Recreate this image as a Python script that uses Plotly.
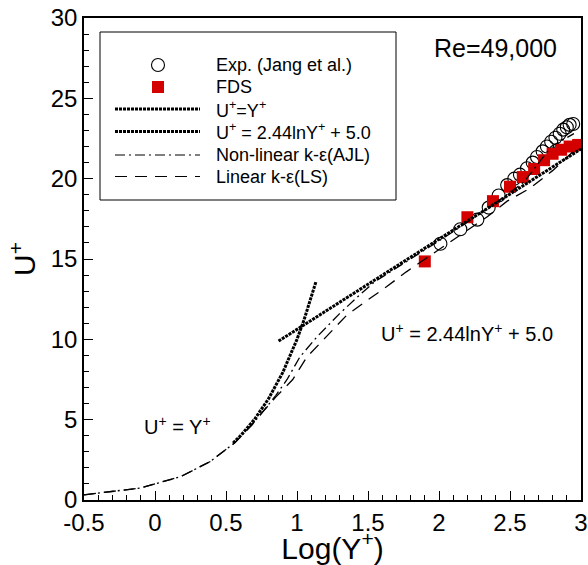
import plotly.graph_objects as go

# ---------------- data ----------------
exp_x = [2.01, 2.15, 2.27, 2.35, 2.42, 2.48, 2.53, 2.57, 2.62, 2.66, 2.69, 2.73,
         2.76, 2.79, 2.82, 2.85, 2.875, 2.90, 2.92, 2.945]
exp_u = [15.95, 16.85, 17.45, 18.2, 18.95, 19.6, 20.0, 20.25, 20.65, 21.0, 21.35, 21.7,
         22.0, 22.3, 22.55, 22.8, 23.05, 23.2, 23.35, 23.4]

fds_x = [1.90, 2.20, 2.38, 2.50, 2.59, 2.67, 2.74, 2.80, 2.86, 2.92, 2.98]
fds_u = [14.85, 17.6, 18.6, 19.5, 20.1, 20.6, 21.15, 21.55, 21.8, 22.0, 22.1]

visc_x = [0.55, 0.6, 0.7, 0.8, 0.9, 1.0, 1.05, 1.1, 1.134]
visc_u = [3.55, 3.98, 5.01, 6.31, 7.94, 10.0, 11.22, 12.59, 13.6]

log_x = [0.87, 3.0]
log_u = [9.89, 21.85]

ajl_x = [-0.5, -0.1, 0.18, 0.39, 0.56, 0.68, 0.76, 0.85, 0.93, 1.02, 1.14, 1.30,
         1.44, 1.55, 1.8, 2.1, 2.4, 2.6, 2.79, 2.95]
ajl_u = [0.32, 0.75, 1.45, 2.4, 3.55, 4.65, 5.5, 6.5, 7.5, 8.9, 10.15, 11.6,
         12.75, 13.6, 15.0, 16.7, 18.5, 19.8, 22.0, 22.8]

ls_x = [-0.5, -0.1, 0.18, 0.39, 0.56, 0.68, 0.76, 0.85, 0.97, 1.07, 1.21, 1.35,
        1.49, 1.63, 1.77, 1.91, 2.08, 2.34, 2.48, 2.64, 2.8, 2.97]
ls_u = [0.32, 0.75, 1.45, 2.4, 3.55, 4.65, 5.5, 6.4, 7.5, 8.9, 10.2, 11.5,
        12.4, 13.27, 14.2, 15.05, 16.07, 17.63, 18.6, 19.4, 20.5, 21.9]

x_tickvals = [-0.5, 0, 0.5, 1, 1.5, 2, 2.5, 3]
x_ticktext = ["-0.5", "0", "0.5", "1", "1.5", "2", "2.5", "3"]
y_tickvals = [0, 5, 10, 15, 20, 25, 30]

legend_labels = ["Exp. (Jang et al.)", "FDS", "U<sup>+</sup>=Y<sup>+</sup>",
                 "U<sup>+</sup> = 2.44lnY<sup>+</sup> + 5.0",
                 "Non-linear k-\u03b5(AJL)", "Linear k-\u03b5(LS)"]

FONT = "Liberation Sans, Arial, sans-serif"
RED = "#d40000"
W, H = 588, 565
L, R, T, B = 84, 7, 18, 65
PW, PH = W - L - R, H - T - B


def px(xp):
    return (xp - L) / PW


def py(yp):
    return (H - B - yp) / PH


fig = go.Figure()
fig.add_trace(go.Scatter(x=exp_x, y=exp_u, mode="markers",
                         marker=dict(symbol="circle-open", size=13, color="black",
                                     line=dict(width=1.1, color="black"))))
fig.add_trace(go.Scatter(x=fds_x, y=fds_u, mode="markers",
                         marker=dict(symbol="square", size=12, color=RED, line=dict(width=0))))
fig.add_trace(go.Scatter(x=ajl_x, y=ajl_u, mode="lines",
                         line=dict(color="black", width=1.3, dash="10px,4px,2px,4px")))
fig.add_trace(go.Scatter(x=ls_x, y=ls_u, mode="lines",
                         line=dict(color="black", width=1.3, dash="12px,8px")))
fig.add_trace(go.Scatter(x=visc_x, y=visc_u, mode="lines",
                         line=dict(color="black", width=3, dash="3px,1px")))
fig.add_trace(go.Scatter(x=log_x, y=log_u, mode="lines",
                         line=dict(color="black", width=3, dash="3px,1px")))

shapes = []
annotations = []
# legend box
shapes.append(dict(type="rect", xref="paper", yref="paper",
                   x0=px(100), x1=px(396), y0=py(200), y1=py(32),
                   line=dict(color="black", width=1), fillcolor="white", layer="below"))
rows = [65, 87, 109, 131.5, 155, 176.5]
r = 6.5
shapes.append(dict(type="circle", xref="paper", yref="paper",
                   x0=px(158 - r), x1=px(158 + r), y0=py(rows[0] + r), y1=py(rows[0] - r),
                   line=dict(color="black", width=1.1)))
s = 6
shapes.append(dict(type="rect", xref="paper", yref="paper",
                   x0=px(158 - s), x1=px(158 + s), y0=py(rows[1] + s), y1=py(rows[1] - s),
                   line=dict(width=0), fillcolor=RED))
dashes = ["3px,1px", "3px,1px", "10px,4px,2px,4px", "12px,8px"]
widths = [3, 3, 1.1, 1.1]
for i in range(4):
    yy = py(rows[2 + i])
    shapes.append(dict(type="line", xref="paper", yref="paper",
                       x0=px(115), x1=px(200), y0=yy, y1=yy,
                       line=dict(color="black", width=widths[i], dash=dashes[i])))
for i, lab in enumerate(legend_labels):
    annotations.append(dict(xref="paper", yref="paper", x=px(214), y=py(rows[i]),
                            text=lab, showarrow=False, xanchor="left", yanchor="middle",
                            font=dict(family=FONT, size=18, color="black")))

annotations.append(dict(xref="paper", yref="paper", x=px(495), y=py(48),
                        text="Re=49,000", showarrow=False, xanchor="center", yanchor="middle",
                        font=dict(family=FONT, size=25, color="black")))
annotations.append(dict(xref="paper", yref="paper", x=px(467), y=py(332),
                        text="U<sup>+</sup> = 2.44lnY<sup>+</sup> + 5.0", showarrow=False,
                        xanchor="center", yanchor="middle",
                        font=dict(family=FONT, size=20, color="black")))
annotations.append(dict(xref="paper", yref="paper", x=px(177), y=py(425),
                        text="U<sup>+</sup> = Y<sup>+</sup>", showarrow=False,
                        xanchor="center", yanchor="middle",
                        font=dict(family=FONT, size=20, color="black")))

axis_common = dict(showline=True, linecolor="black", linewidth=1.5, mirror=True,
                   ticks="inside", ticklen=9, tickwidth=1.2, tickcolor="black",
                   showgrid=False, zeroline=False, automargin=False,
                   tickfont=dict(family=FONT, size=24, color="black"))
fig.update_layout(
    width=W, height=H,
    margin=dict(l=L, r=R, t=T, b=B),
    paper_bgcolor="white", plot_bgcolor="white",
    showlegend=False,
    shapes=shapes, annotations=annotations,
    xaxis=dict(range=[-0.5, 3], tickmode="array", tickvals=x_tickvals, ticktext=x_ticktext,
               minor=dict(dtick=0.1, tick0=-0.5, ticks="inside", ticklen=5,
                          tickcolor="black", tickwidth=1),
               title=dict(text="Log(Y<sup>+</sup>)", standoff=4,
                          font=dict(family=FONT, size=30, color="black")),
               **axis_common),
    yaxis=dict(range=[0, 30], tickmode="array", tickvals=y_tickvals,
               minor=dict(dtick=1, tick0=0, ticks="inside", ticklen=5,
                          tickcolor="black", tickwidth=1),
               title=dict(text="U<sup>+</sup>", standoff=6,
                          font=dict(family=FONT, size=30, color="black")),
               **axis_common),
)
fig.write_html("out.html")
